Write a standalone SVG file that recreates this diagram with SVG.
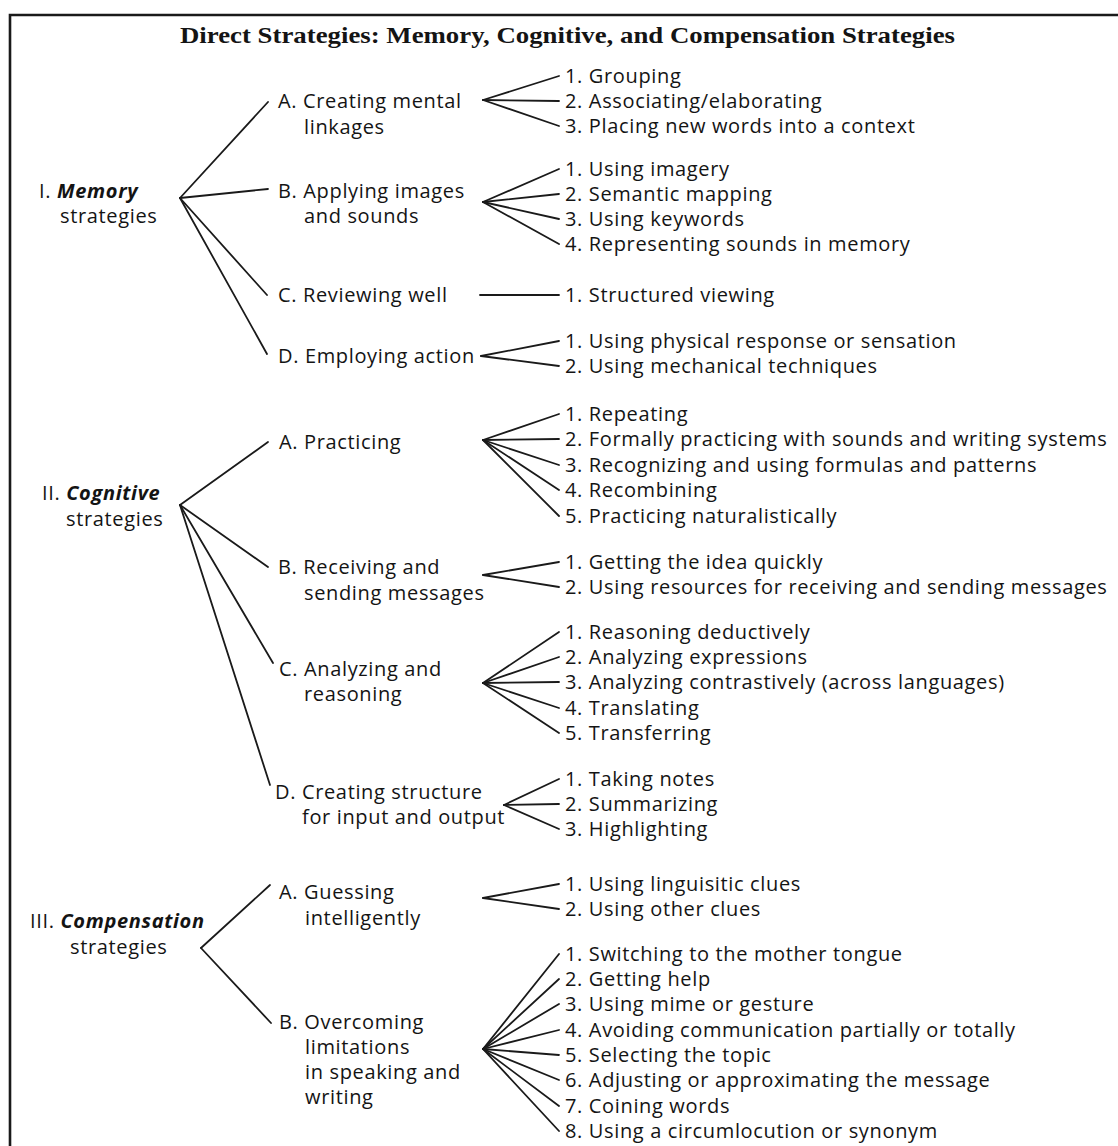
<svg xmlns="http://www.w3.org/2000/svg" width="1118" height="1146" viewBox="0 0 1118 1146">
  <style>
    text { font-family: "Open Sans", "Noto Sans", "DejaVu Sans", sans-serif; font-size: 20px; letter-spacing: 0.65px; fill: #141414; }
    .title { font-family: "Liberation Serif", "DejaVu Serif", serif; font-size: 23px; font-weight: bold; letter-spacing: 0; }
    .em { font-weight: bold; font-style: italic; }
    .frame { fill: none; stroke: #1a1a1a; stroke-width: 2.6; }
    #connectors line { stroke: #1a1a1a; stroke-width: 1.8; fill: none; stroke-linecap: round; }
  </style>
  <rect width="1118" height="1146" fill="#ffffff"/>

  <!-- frame: open at the right and bottom -->
  <path class="frame" d="M 10 1146 V 15 H 1118"/>

  <text class="title" x="180" y="43" textLength="775" lengthAdjust="spacingAndGlyphs">Direct Strategies: Memory, Cognitive, and Compensation Strategies</text>

  <!-- connectors -->
  <g id="connectors">
    <!-- I. Memory -->
    <line x1="180" y1="198" x2="268" y2="102"/>
    <line x1="180" y1="198" x2="268" y2="189"/>
    <line x1="180" y1="198" x2="267" y2="295"/>
    <line x1="180" y1="198" x2="267" y2="354"/>
    <!-- I.A -->
    <line x1="483" y1="100" x2="559" y2="76"/>
    <line x1="483" y1="100" x2="559" y2="101"/>
    <line x1="483" y1="100" x2="559" y2="126"/>
    <!-- I.B -->
    <line x1="483" y1="202" x2="559" y2="169"/>
    <line x1="483" y1="202" x2="559" y2="194"/>
    <line x1="483" y1="202" x2="559" y2="219"/>
    <line x1="483" y1="202" x2="559" y2="244"/>
    <!-- I.C -->
    <line x1="480" y1="295" x2="559" y2="295"/>
    <!-- I.D -->
    <line x1="481" y1="356" x2="559" y2="341"/>
    <line x1="481" y1="356" x2="559" y2="366"/>

    <!-- II. Cognitive -->
    <line x1="180" y1="505" x2="268" y2="442"/>
    <line x1="180" y1="505" x2="268" y2="567"/>
    <line x1="180" y1="505" x2="273" y2="663"/>
    <line x1="180" y1="505" x2="270" y2="785"/>
    <!-- II.A -->
    <line x1="483" y1="440" x2="559" y2="414"/>
    <line x1="483" y1="440" x2="559" y2="439"/>
    <line x1="483" y1="440" x2="559" y2="465"/>
    <line x1="483" y1="440" x2="559" y2="490"/>
    <line x1="483" y1="440" x2="559" y2="516"/>
    <!-- II.B -->
    <line x1="483" y1="575" x2="559" y2="562"/>
    <line x1="483" y1="575" x2="559" y2="587"/>
    <!-- II.C -->
    <line x1="483" y1="683" x2="559" y2="632"/>
    <line x1="483" y1="683" x2="559" y2="657"/>
    <line x1="483" y1="683" x2="559" y2="682"/>
    <line x1="483" y1="683" x2="559" y2="708"/>
    <line x1="483" y1="683" x2="559" y2="733"/>
    <!-- II.D -->
    <line x1="504" y1="805" x2="559" y2="779"/>
    <line x1="504" y1="805" x2="559" y2="804"/>
    <line x1="504" y1="805" x2="559" y2="829"/>

    <!-- III. Compensation -->
    <line x1="201" y1="948" x2="270" y2="885"/>
    <line x1="201" y1="948" x2="271" y2="1023"/>
    <!-- III.A -->
    <line x1="483" y1="898" x2="559" y2="884"/>
    <line x1="483" y1="898" x2="559" y2="909"/>
    <!-- III.B -->
    <line x1="483" y1="1049" x2="559" y2="954"/>
    <line x1="483" y1="1049" x2="559" y2="979"/>
    <line x1="483" y1="1049" x2="559" y2="1004"/>
    <line x1="483" y1="1049" x2="559" y2="1030"/>
    <line x1="483" y1="1049" x2="559" y2="1055"/>
    <line x1="483" y1="1049" x2="559" y2="1080"/>
    <line x1="483" y1="1049" x2="559" y2="1106"/>
    <line x1="483" y1="1049" x2="559" y2="1131"/>
  </g>

  <!-- I. Memory strategies -->
  <g id="memory">
    <text x="39" y="198">I. <tspan class="em">Memory</tspan></text>
    <text x="60" y="223">strategies</text>
  </g>
  <g id="memory-a">
    <text x="278" y="108">A. Creating mental</text>
    <text x="304" y="134">linkages</text>
  </g>
  <g id="memory-a-items">
    <text x="565" y="83">1. Grouping</text>
    <text x="565" y="108">2. Associating/elaborating</text>
    <text x="565" y="133">3. Placing new words into a context</text>
  </g>
  <g id="memory-b">
    <text x="278" y="198">B. Applying images</text>
    <text x="304" y="223">and sounds</text>
  </g>
  <g id="memory-b-items">
    <text x="565" y="176">1. Using imagery</text>
    <text x="565" y="201">2. Semantic mapping</text>
    <text x="565" y="226">3. Using keywords</text>
    <text x="565" y="251">4. Representing sounds in memory</text>
  </g>
  <g id="memory-c">
    <text x="278" y="302">C. Reviewing well</text>
  </g>
  <g id="memory-c-items">
    <text x="565" y="302">1. Structured viewing</text>
  </g>
  <g id="memory-d">
    <text x="278" y="363">D. Employing action</text>
  </g>
  <g id="memory-d-items">
    <text x="565" y="348">1. Using physical response or sensation</text>
    <text x="565" y="373">2. Using mechanical techniques</text>
  </g>

  <!-- II. Cognitive strategies -->
  <g id="cognitive">
    <text x="42" y="500">II. <tspan class="em">Cognitive</tspan></text>
    <text x="66" y="526">strategies</text>
  </g>
  <g id="cognitive-a">
    <text x="279" y="449">A. Practicing</text>
  </g>
  <g id="cognitive-a-items">
    <text x="565" y="421">1. Repeating</text>
    <text x="565" y="446">2. Formally practicing with sounds and writing systems</text>
    <text x="565" y="472">3. Recognizing and using formulas and patterns</text>
    <text x="565" y="497">4. Recombining</text>
    <text x="565" y="523">5. Practicing naturalistically</text>
  </g>
  <g id="cognitive-b">
    <text x="278" y="574">B. Receiving and</text>
    <text x="304" y="600">sending messages</text>
  </g>
  <g id="cognitive-b-items">
    <text x="565" y="569">1. Getting the idea quickly</text>
    <text x="565" y="594">2. Using resources for receiving and sending messages</text>
  </g>
  <g id="cognitive-c">
    <text x="279" y="676">C. Analyzing and</text>
    <text x="304" y="701">reasoning</text>
  </g>
  <g id="cognitive-c-items">
    <text x="565" y="639">1. Reasoning deductively</text>
    <text x="565" y="664">2. Analyzing expressions</text>
    <text x="565" y="689">3. Analyzing contrastively (across languages)</text>
    <text x="565" y="715">4. Translating</text>
    <text x="565" y="740">5. Transferring</text>
  </g>
  <g id="cognitive-d">
    <text x="275" y="799">D. Creating structure</text>
    <text x="302" y="824">for input and output</text>
  </g>
  <g id="cognitive-d-items">
    <text x="565" y="786">1. Taking notes</text>
    <text x="565" y="811">2. Summarizing</text>
    <text x="565" y="836">3. Highlighting</text>
  </g>

  <!-- III. Compensation strategies -->
  <g id="compensation">
    <text x="30" y="928">III. <tspan class="em">Compensation</tspan></text>
    <text x="70" y="954">strategies</text>
  </g>
  <g id="compensation-a">
    <text x="279" y="899">A. Guessing</text>
    <text x="305" y="925">intelligently</text>
  </g>
  <g id="compensation-a-items">
    <text x="565" y="891">1. Using linguisitic clues</text>
    <text x="565" y="916">2. Using other clues</text>
  </g>
  <g id="compensation-b">
    <text x="279" y="1029">B. Overcoming</text>
    <text x="305" y="1054">limitations</text>
    <text x="305" y="1079">in speaking and</text>
    <text x="305" y="1104">writing</text>
  </g>
  <g id="compensation-b-items">
    <text x="565" y="961">1. Switching to the mother tongue</text>
    <text x="565" y="986">2. Getting help</text>
    <text x="565" y="1011">3. Using mime or gesture</text>
    <text x="565" y="1037">4. Avoiding communication partially or totally</text>
    <text x="565" y="1062">5. Selecting the topic</text>
    <text x="565" y="1087">6. Adjusting or approximating the message</text>
    <text x="565" y="1113">7. Coining words</text>
    <text x="565" y="1138">8. Using a circumlocution or synonym</text>
  </g>
</svg>
